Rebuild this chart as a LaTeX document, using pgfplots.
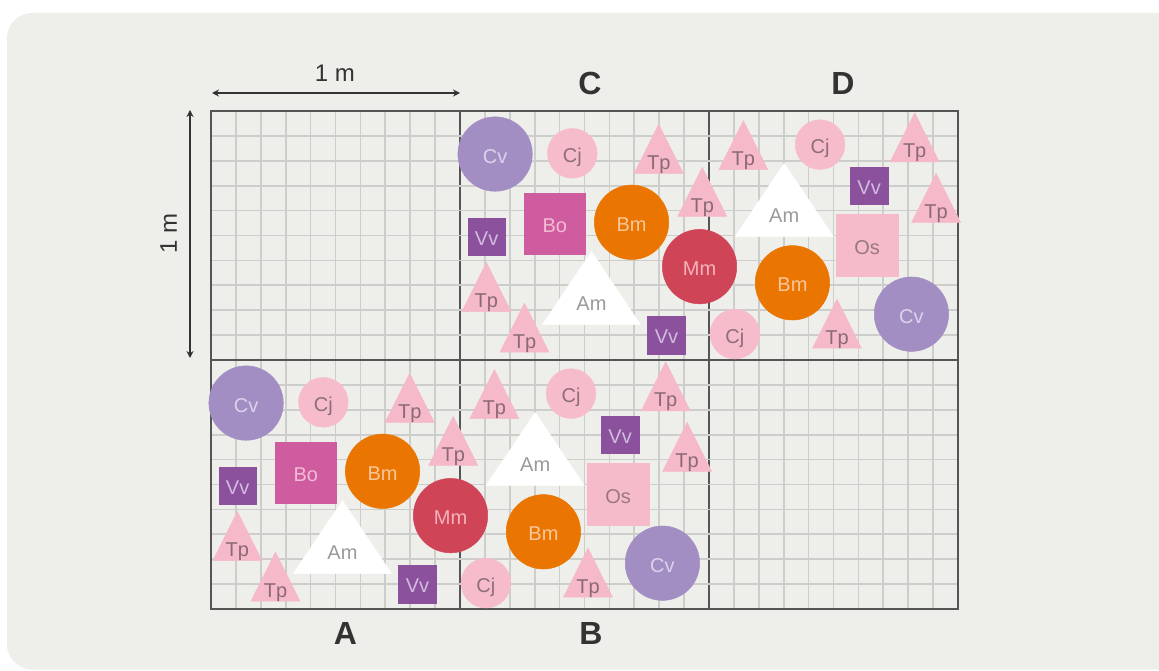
\documentclass[border=0pt]{standalone}
\usepackage{fontspec}
\setmainfont{Liberation Sans}
\usepackage{pgfplots}
\usepackage{pgfplotstable}
\pgfplotsset{compat=1.18}
\usetikzlibrary{arrows.meta}

\definecolor{bgc}{HTML}{EEEEEA}
\definecolor{gridmin}{HTML}{CDCDCB}
\definecolor{gridmaj}{HTML}{555555}
\definecolor{txt}{HTML}{333333}
\definecolor{cvc}{HTML}{A38EC4}\definecolor{cvt}{HTML}{DDD2EE}
\definecolor{cjc}{HTML}{F7BCCB}\definecolor{cjt}{HTML}{8E6E77}
\definecolor{tpc}{HTML}{F6B9C9}\definecolor{tpt}{HTML}{8A6A73}
\definecolor{boc}{HTML}{CE5C9F}\definecolor{bot}{HTML}{F5BAD6}
\definecolor{vvc}{HTML}{8B519C}\definecolor{vvt}{HTML}{D2BCE0}
\definecolor{bmc}{HTML}{EA7500}\definecolor{bmt}{HTML}{F8C79D}
\definecolor{mmc}{HTML}{CF4557}\definecolor{mmt}{HTML}{F3B3BB}
\definecolor{amc}{HTML}{FFFFFF}\definecolor{amt}{HTML}{9A9A9A}
\definecolor{osc}{HTML}{F6BBCA}\definecolor{ost}{HTML}{9A7880}

\newcommand\lab{\fontsize{20pt}{24pt}\selectfont}

\pgfdeclareplotmark{tp}{%
  \pgfpathmoveto{\pgfqpoint{0pt}{24.5pt}}%
  \pgfpathlineto{\pgfqpoint{-24.5pt}{-24.5pt}}%
  \pgfpathlineto{\pgfqpoint{24.5pt}{-24.5pt}}%
  \pgfpathclose\pgfusepathqfillstroke}
\pgfdeclareplotmark{am}{%
  \pgfpathmoveto{\pgfqpoint{0pt}{36.5pt}}%
  \pgfpathlineto{\pgfqpoint{-49pt}{-36.5pt}}%
  \pgfpathlineto{\pgfqpoint{49pt}{-36.5pt}}%
  \pgfpathclose\pgfusepathqfillstroke}

% positions in metres (A: 0-1,0-1; B: 1-2,0-1; C: 1-2,1-2; D: 2-3,1-2)
\pgfplotstableread{
x y
0.141 0.827
1.141 1.827
1.813 0.184
2.813 1.184
}\cvdata
\pgfplotstableread{
x y
0.451 0.830
1.451 1.830
1.446 0.865
1.104 0.104
2.446 1.865
2.104 1.104
}\cjdata
\pgfplotstableread{
x y
0.798 0.848
0.973 0.675
0.106 0.293
0.259 0.130
1.798 1.848
1.973 1.675
1.106 1.293
1.259 1.130
1.138 0.863
1.826 0.894
1.912 0.651
1.514 0.146
2.138 1.863
2.826 1.894
2.912 1.651
2.514 1.146
}\tpdata
\pgfplotstableread{
x y
0.381 0.547
1.381 1.547
}\bodata
\pgfplotstableread{
x y
0.107 0.495
0.829 0.100
1.107 1.495
1.829 1.100
1.643 0.700
2.643 1.700
}\vvdata
\pgfplotstableread{
x y
0.689 0.553
1.689 1.553
1.335 0.310
2.335 1.310
}\bmdata
\pgfplotstableread{
x y
0.962 0.375
1.962 1.375
}\mmdata
\pgfplotstableread{
x y
0.528 0.289
1.528 1.289
1.302 0.643
2.302 1.643
}\amdata
\pgfplotstableread{
x y
1.635 0.461
2.635 1.461
}\osdata

\begin{document}
\begin{tikzpicture}
\path[use as bounding box] (0pt,0pt) rectangle (1159pt,670pt);
\begin{scope}
\clip (0pt,0pt) rectangle (1159pt,670pt);
\fill[bgc, rounded corners=25pt] (7pt,0.5pt) rectangle (1190pt,657pt);
\end{scope}

% dimension arrows and titles
\draw[txt, line width=1.2pt, {Stealth[length=7pt,width=7pt]}-{Stealth[length=7pt,width=7pt]}] (212pt,577pt) -- (460pt,577pt);
\node[txt, font=\fontsize{24pt}{28pt}\selectfont] at (335pt,597pt) {1 m};
\draw[txt, line width=1.2pt, {Stealth[length=7pt,width=7pt]}-{Stealth[length=7pt,width=7pt]}] (190pt,312pt) -- (190pt,560pt);
\node[txt, font=\fontsize{24pt}{28pt}\selectfont, rotate=90] at (168.5pt,437pt) {1 m};
\node[txt, font=\fontsize{32pt}{38pt}\selectfont\bfseries] at (590pt,587pt) {C};
\node[txt, font=\fontsize{32pt}{38pt}\selectfont\bfseries] at (843pt,587pt) {D};
\node[txt, font=\fontsize{32pt}{38pt}\selectfont\bfseries] at (345.5pt,37pt) {A};
\node[txt, font=\fontsize{32pt}{38pt}\selectfont\bfseries] at (591pt,37pt) {B};

\begin{axis}[
  at={(211pt,61pt)}, anchor=south west, scale only axis,
  width=747pt, height=498pt,
  xmin=0, xmax=3, ymin=0, ymax=2, clip=false,
  xtick={0,1,2,3}, ytick={0,1,2},
  minor x tick num=9, minor y tick num=9,
  xticklabels={}, yticklabels={},
  major tick length=0pt, minor tick length=0pt,
  grid=both,
  minor grid style={draw=gridmin, line width=1.7pt},
  major grid style={draw=gridmaj, line width=1.7pt},
  axis line style={draw=gridmaj, line width=1.7pt},
  lbl/.style={only marks, mark=text, text mark as node=true},
]
% shapes
\addplot[only marks, mark=*, mark size=37.2pt, mark options={fill=cvc, draw=cvc, line width=0.5pt}] table {\cvdata};
\addplot[only marks, mark=*, mark size=24.8pt, mark options={fill=cjc, draw=cjc, line width=0.5pt}] table {\cjdata};
\addplot[only marks, mark=tp, mark options={fill=tpc, draw=tpc, line width=0.5pt}] table {\tpdata};
\addplot[only marks, mark=square*, mark size=30.8pt, mark options={fill=boc, draw=boc, line width=0.5pt}] table {\bodata};
\addplot[only marks, mark=square*, mark size=18.8pt, mark options={fill=vvc, draw=vvc, line width=0.5pt}] table {\vvdata};
\addplot[only marks, mark=*, mark size=37.2pt, mark options={fill=bmc, draw=bmc, line width=0.5pt}] table {\bmdata};
\addplot[only marks, mark=*, mark size=37.2pt, mark options={fill=mmc, draw=mmc, line width=0.5pt}] table {\mmdata};
\addplot[only marks, mark=am, mark options={fill=amc, draw=amc, line width=0.5pt}] table {\amdata};
\addplot[only marks, mark=square*, mark size=30.8pt, mark options={fill=osc, draw=osc, line width=0.5pt}] table {\osdata};
% labels
\addplot[lbl, text mark={Cv}, text mark style={font=\lab, text=cvt, text depth=0pt, yshift=-2pt}] table {\cvdata};
\addplot[lbl, text mark={Cj}, text mark style={font=\lab, text=cjt, text depth=0pt, yshift=-2pt}] table {\cjdata};
\addplot[lbl, text mark={Tp}, text mark style={font=\lab, text=tpt, text depth=0pt, yshift=-13.5pt}] table {\tpdata};
\addplot[lbl, text mark={Bo}, text mark style={font=\lab, text=bot, text depth=0pt, yshift=-2pt}] table {\bodata};
\addplot[lbl, text mark={Vv}, text mark style={font=\lab, text=vvt, text depth=0pt, yshift=-2pt}] table {\vvdata};
\addplot[lbl, text mark={Bm}, text mark style={font=\lab, text=bmt, text depth=0pt, yshift=-2pt}] table {\bmdata};
\addplot[lbl, text mark={Mm}, text mark style={font=\lab, text=mmt, text depth=0pt, yshift=-2pt}] table {\mmdata};
\addplot[lbl, text mark={Am}, text mark style={font=\lab, text=amt, text depth=0pt, yshift=-16pt}] table {\amdata};
\addplot[lbl, text mark={Os}, text mark style={font=\lab, text=ost, text depth=0pt, yshift=-2pt}] table {\osdata};
\end{axis}
\end{tikzpicture}
\end{document}
